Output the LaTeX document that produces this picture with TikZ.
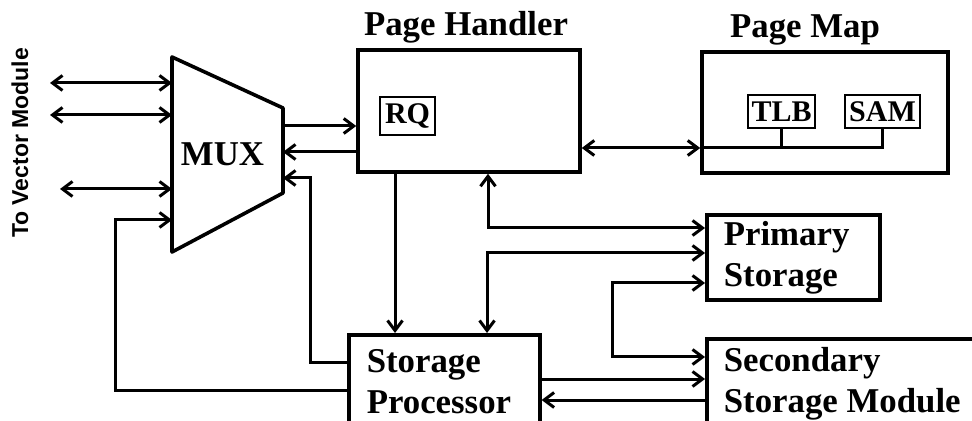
\documentclass[tikz,border=0pt]{standalone}
\usepackage{fontspec}
\setmainfont{Liberation Serif}
\newfontfamily\handfont{Liberation Sans}
\usetikzlibrary{arrows.meta,positioning}

\begin{document}
\begin{tikzpicture}[
    x=0.5pt, y=-0.5pt,
    every node/.style={font=\fontsize{17.4}{20.5}\selectfont\bfseries},
    unit/.style={draw, line width=1.8pt, inner sep=0pt},
    store/.style={draw, line width=1.8pt, anchor=north west, align=flush left, inner xsep=8.5pt, inner ysep=0pt},
    reg/.style={draw, line width=1pt, inner sep=0pt, font=\fontsize{15}{15}\selectfont\bfseries},
    title/.style={inner sep=0pt},
    link/.style={line width=1.5pt},
    arrow/.style={link, -{Straight Barb[length=5pt,width=7.5pt]}},
    both/.style={link, {Straight Barb[length=5pt,width=7.5pt]}-{Straight Barb[length=5pt,width=7.5pt]}}
]
\useasboundingbox (0,0) rectangle (972,421);

% multiplexer and the vector module side
\node[inner sep=0pt, outer sep=0pt, minimum width=55.5pt, minimum height=97.5pt] (mux) at (227.5,154.5) {MUX\hspace*{5pt}};
\draw[line width=1.8pt, line join=round] (mux.north west) -- ([yshift=-25.5pt]mux.north east)
    -- ([yshift=29.5pt]mux.south east) -- (mux.south west) -- cycle;
\node[rotate=90, font=\handfont\fontsize{11.5}{12}\selectfont\bfseries] (vec) at (20,143) {To Vector Module};
\coordinate (v1) at (50,83);
\coordinate (v2) at (50,115);
\coordinate (v3) at (60,189);

% page handler and page map
\node[unit, minimum width=111pt, minimum height=61pt] (ph) at (469,111) {};
\node[title, above=2.2pt of ph, xshift=-1.5pt] (phname) {Page Handler};
\node[reg, minimum width=27.5pt, minimum height=19pt] (rq) at (407.5,116) {RQ};
\node[unit, minimum width=123pt, minimum height=60.5pt] (pm) at (825,112.5) {};
\node[title, above=2.2pt of pm, xshift=-10pt] (pmname) {Page Map};
\node[reg, minimum width=33.5pt, minimum height=16.5pt] (tlb) at (781.5,111.5) {TLB};
\node[reg, minimum width=37.5pt, minimum height=16.5pt] (sam) at (882.5,111.5) {SAM};

% storage
\node[store, text width=69.5pt, minimum height=42.5pt] (ps) at (705,213) {Primary\\Storage};
\node[store, text width=130.5pt, minimum height=45pt] (ss) at (705,337) {Secondary\\Storage Module};
\node[store, inner xsep=9pt, text width=77.5pt, minimum height=47pt] (sp) at (347,333) {Storage\\Processor};

\draw[both] (v1) -- (mux.west |- v1);
\draw[both] (v2) -- (mux.west |- v2);
\draw[both] (v3) -- (mux.west |- v3);
\draw[arrow] (sp.west |- 0,390) -- (115,390) -- (115,220) -- (mux.west |- 0,220);
\draw[arrow] (mux.east |- 0,126) -- (ph.west |- 0,126);
\draw[arrow] (ph.west |- 0,152) -- (mux.east |- 0,152);
\draw[arrow] (sp.west |- 0,363) -- (310,363) -- (310,178) -- (mux.east |- 0,178);
\draw[arrow] (ph.south -| 395,0) -- (sp.north -| 395,0);
\draw[both] (ph.south -| 488,0) -- (488,228) -- (ps.west |- 0,228);
\draw[both] (sp.north -| 487,0) -- (487,253) -- (ps.west |- 0,253);
\draw[both] (ps.west |- 0,283) -- (612,283) -- (612,357) -- (ss.west |- 0,357);
\draw[arrow] (sp.east |- 0,379) -- (ss.west |- 0,379);
\draw[arrow] (ss.west |- 0,400) -- (sp.east |- 0,400);
\draw[both] (ph.east |- 0,148) -- (pm.west |- 0,148);
\draw[link] (pm.west |- 0,148) -- (sam.south |- 0,148) -- (sam.south);
\draw[link] (tlb.south) -- (tlb.south |- 0,148);
\end{tikzpicture}
\end{document}
